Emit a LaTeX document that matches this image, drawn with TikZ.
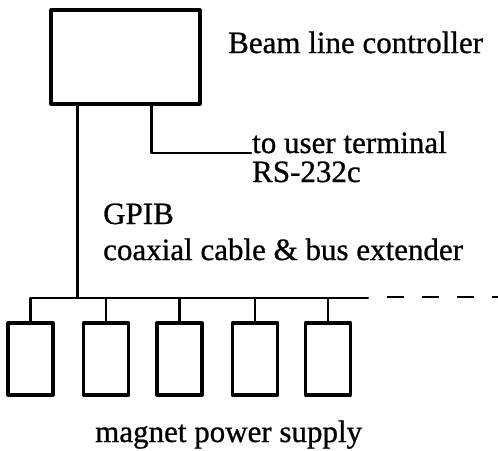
\documentclass[tikz,border=0pt]{standalone}
\usepackage{fontspec}
\setmainfont{Liberation Serif}
\newfontfamily\printfont{Liberation Serif}[FakeBold=0.8]
\begin{document}
\begin{tikzpicture}[x=1pt, y=-1pt, line join=round, line cap=round]
    \tikzset{unit/.style={draw, line width=3.2pt, minimum width=45pt, minimum height=72pt, inner sep=0pt},
             label text/.style={font=\printfont\fontsize{31}{35}\selectfont, inner sep=0pt, anchor=base west},
             wire/.style={line width=2.2pt}}
    \useasboundingbox (0,0) rectangle (498,450);
    % controller and its labels
    \node[unit, minimum width=149pt, minimum height=94pt] (ctrl) at (125.5,57) {};
    \node[label text] (ctrltxt) at (228,53) {Beam line controller};
    \node[label text] (term) at (252,153) {to user terminal};
    \node[label text] (rs) at (252,182) {RS-232c};
    \node[label text] (gpib) at (103,224) {GPIB};
    \node[label text] (coax) at (103,260) {coaxial cable \& bus extender};
    \node[label text] (psutxt) at (95,442) {magnet power supply};
    % bus
    \coordinate (busL) at (32,298);
    \coordinate (busR) at (368,298);
    \coordinate (dashS) at (387,297);
    \coordinate (busEnd) at (498,297);
    \coordinate (rsEnd) at (251,153);
    \draw[wire] (busL) -- (busR);
    \draw[wire, line cap=butt, dash pattern=on 17pt off 18pt] (dashS) -- (busEnd);
    \draw[wire] ([xshift=28pt]ctrl.south west) -- ([xshift=28pt]ctrl.south west |- busL);
    \draw[wire] ([xshift=102pt]ctrl.south west) |- (rsEnd);
    % power supplies
    \foreach \i/\x in {1/30.5, 2/106, 3/179.5, 4/255, 5/328} {
        \node[unit] (psu\i) at (\x,359) {};
        \draw[wire] (psu\i.north) -- (psu\i.north |- busL);
    }
\end{tikzpicture}
\end{document}
